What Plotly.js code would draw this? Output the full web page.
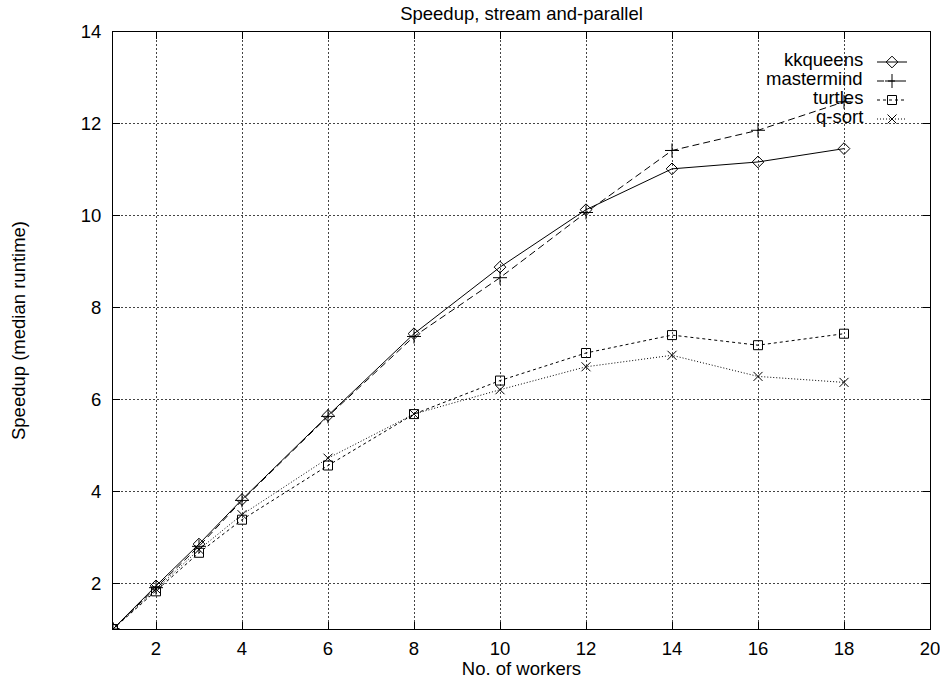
<!DOCTYPE html>
<html>
<head>
<meta charset="utf-8">
<script src="https://cdn.plot.ly/plotly-3.0.1.min.js"></script>
<style>html,body{margin:0;padding:0;background:#fff;}#chart{width:940px;height:679px;}</style>
</head>
<body>
<div id="chart"></div>
<script>
const workers = [1, 2, 3, 4, 6, 8, 10, 12, 14, 16, 18];
const kkqueens = [1, 1.94, 2.85, 3.82, 5.65, 7.43, 8.88, 10.13, 11.02, 11.17, 11.46];
const mastermind = [1, 1.90, 2.80, 3.80, 5.63, 7.37, 8.65, 10.07, 11.42, 11.86, 12.48];
const turtles = [1, 1.82, 2.66, 3.38, 4.56, 5.68, 6.41, 7.01, 7.40, 7.18, 7.43];
const qsort = [1, 1.87, 2.73, 3.49, 4.72, 5.68, 6.21, 6.71, 6.96, 6.50, 6.37];
const seriesNames = ['kkqueens', 'mastermind', 'turtles', 'q-sort'];
const xTicks = [2, 4, 6, 8, 10, 12, 14, 16, 18, 20];
const yTicks = [2, 4, 6, 8, 10, 12, 14];

const styles = [
  {dash: 'solid', symbol: 'diamond-open', size: 9},
  {dash: '7px,4px', symbol: 'cross-thin-open', size: 10},
  {dash: '3px,3px', symbol: 'square-open', size: 9},
  {dash: '1px,2px', symbol: 'x-thin-open', size: 9}
];
const values = [kkqueens, mastermind, turtles, qsort];
const FONT = '"Liberation Sans", Arial, Helvetica, sans-serif';
const FS = 18.5;

const traces = values.map((v, i) => ({
  x: workers, y: v, type: 'scatter', mode: 'lines+markers',
  name: ' ',
  line: {color: '#000', width: 1, dash: styles[i].dash},
  marker: {symbol: styles[i].symbol, size: styles[i].size, color: '#000', line: {color: '#000', width: 1}}
}));

const rowY = [59.5, 78.5, 97.5, 116.5];
const annotations = seriesNames.map((n, i) => ({
  xref: 'paper', yref: 'paper', x: (865 - 113) / (930 - 113), y: (629.3 - rowY[i]) / (629.3 - 32.5),
  xanchor: 'right', yanchor: 'middle', text: n, showarrow: false,
  font: {family: FONT, size: FS, color: '#000'}
}));

const axisCommon = {
  showline: true, linecolor: '#000', linewidth: 1, mirror: 'ticks',
  ticks: 'inside', ticklen: 7, tickcolor: '#000', tickwidth: 1,
  showgrid: true, gridcolor: '#444', griddash: '1.5px,2.5px', gridwidth: 1,
  zeroline: false, tickfont: {family: FONT, size: FS, color: '#000'},
  automargin: false, ticklabeloverflow: 'allow'
};

const layout = {
  width: 940, height: 679,
  margin: {l: 113, r: 10, t: 32, b: 50, pad: 0},
  paper_bgcolor: '#fff', plot_bgcolor: '#fff',
  font: {family: FONT, size: FS, color: '#000'},
  title: {text: 'Speedup, stream and-parallel', x: 0.5548, xanchor: 'center', y: 1 - 14 / 679, yanchor: 'middle',
          font: {family: FONT, size: FS, color: '#000'}},
  xaxis: Object.assign({}, axisCommon, {
    range: [1, 20], tickmode: 'array', tickvals: xTicks, ticktext: xTicks.map(String),
    ticklabelstandoff: 3,
    title: {text: 'No. of workers', standoff: 0, font: {family: FONT, size: FS, color: '#000'}}
  }),
  yaxis: Object.assign({}, axisCommon, {
    range: [1, 14], tickmode: 'array', tickvals: yTicks, ticktext: yTicks.map(String),
    ticklabelstandoff: 7,
    title: {text: 'Speedup (median runtime)', standoff: 50, font: {family: FONT, size: FS, color: '#000'}}
  }),
  showlegend: true,
  legend: {
    x: (872 - 113) / (930 - 113), y: (629.3 - 48) / (629.3 - 32.5), xanchor: 'left', yanchor: 'top',
    bgcolor: 'rgba(0,0,0,0)', borderwidth: 0, font: {family: FONT, size: 11, color: '#000'},
    itemwidth: 30, tracegroupgap: 0
  },
  annotations: annotations
};

Plotly.newPlot('chart', traces, layout, {displayModeBar: false, staticPlot: true});
</script>
</body>
</html>
